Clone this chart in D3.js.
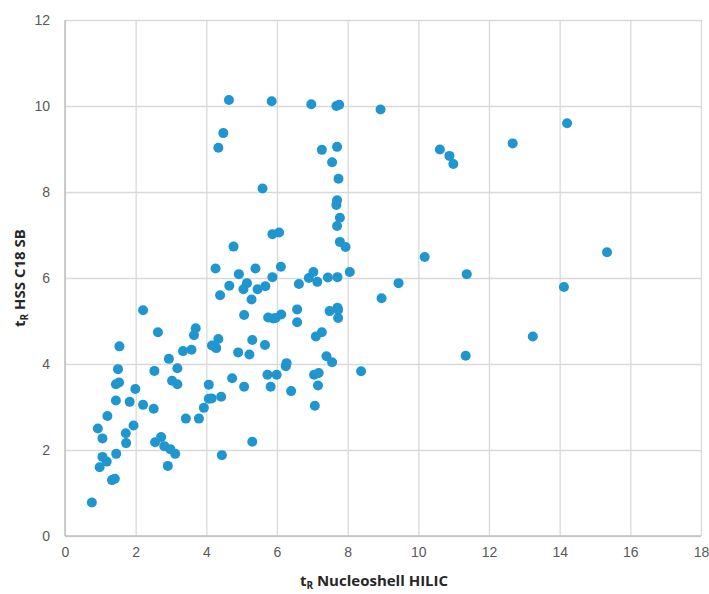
<!DOCTYPE html>
<html>
<head>
<meta charset="utf-8">
<script src="https://cdn.jsdelivr.net/npm/d3@7"></script>
<style>
  html, body { margin: 0; padding: 0; background: #fff; }
  svg { display: block; }
</style>
</head>
<body>
<svg id="chart" width="709" height="594"></svg>
<script>
const xTicks = [0, 2, 4, 6, 8, 10, 12, 14, 16, 18];
const yTicks = [0, 2, 4, 6, 8, 10, 12];
const xLabelMain = "t", xLabelSub = "R", xLabelRest = " Nucleoshell HILIC";
const yLabelMain = "t", yLabelSub = "R", yLabelRest = " HSS C18 SB";

const xValues = [
  4.64, 5.85, 4.48, 4.34, 5.59, 6.97, 7.68, 7.76, 8.93, 7.27,
  7.70, 7.56, 7.74, 7.70, 7.68, 10.61, 10.88, 10.99, 12.67, 14.21,
  5.87, 6.06, 4.77, 4.26, 4.92, 5.39, 6.11, 5.87, 4.65, 5.15,
  5.05, 5.45, 5.67, 6.62, 4.39, 5.28, 2.21, 5.07, 5.75, 5.89,
  5.96, 6.12, 6.57, 6.57, 2.63, 3.70, 3.65, 4.34, 5.30, 4.16,
  4.28, 5.66, 1.54, 3.34, 3.58, 4.90, 5.22, 2.94, 6.27, 6.25,
  1.50, 2.53, 3.18, 4.73, 5.73, 5.99, 3.03, 1.44, 1.53, 1.99,
  3.18, 4.07, 5.07, 5.82, 6.40, 1.44, 1.83, 2.21, 2.51, 4.07,
  4.15, 4.42, 3.93, 1.20, 3.42, 3.79, 0.93, 1.06, 1.94, 1.72,
  1.73, 2.55, 2.72, 2.81, 2.98, 3.12, 1.45, 1.06, 1.18, 0.98,
  5.30, 4.44, 2.91, 1.33, 1.41, 0.76, 7.78, 7.70, 7.78, 7.94,
  10.18, 11.37, 7.03, 6.90, 7.14, 7.44, 7.71, 8.06, 9.44, 8.96,
  7.49, 7.71, 7.73, 7.73, 7.27, 7.10, 7.40, 7.56, 8.38, 7.05,
  7.18, 11.34, 7.16, 7.07, 15.34, 14.12, 13.24
];
const yValues = [
  10.14, 10.11, 9.37, 9.03, 8.08, 10.04, 10.00, 10.03, 9.92, 8.98,
  9.05, 8.69, 8.31, 7.81, 7.70, 8.99, 8.84, 8.65, 9.13, 9.60,
  7.02, 7.06, 6.73, 6.22, 6.09, 6.22, 6.26, 6.02, 5.82, 5.88,
  5.74, 5.74, 5.81, 5.86, 5.60, 5.50, 5.25, 5.14, 5.08, 5.06,
  5.07, 5.15, 5.27, 4.97, 4.74, 4.83, 4.67, 4.58, 4.56, 4.43,
  4.37, 4.44, 4.41, 4.30, 4.33, 4.27, 4.22, 4.12, 4.02, 3.95,
  3.88, 3.84, 3.90, 3.67, 3.75, 3.75, 3.61, 3.53, 3.57, 3.42,
  3.53, 3.52, 3.47, 3.47, 3.37, 3.15, 3.12, 3.05, 2.96, 3.19,
  3.20, 3.24, 2.98, 2.79, 2.73, 2.73, 2.50, 2.27, 2.57, 2.39,
  2.16, 2.18, 2.30, 2.09, 2.02, 1.91, 1.91, 1.84, 1.73, 1.60,
  2.19, 1.88, 1.63, 1.30, 1.33, 0.78, 7.40, 7.21, 6.84, 6.72,
  6.49, 6.09, 6.14, 6.00, 5.91, 6.01, 6.02, 6.14, 5.88, 5.53,
  5.23, 5.31, 5.26, 5.07, 4.74, 4.64, 4.18, 4.04, 3.83, 3.75,
  3.79, 4.19, 3.50, 3.03, 6.60, 5.79, 4.64
];

const svg = d3.select("#chart");
const mLeft = 65, mRight = 701, mTop = 20, mBottom = 536;

const x = d3.scaleLinear().domain([0, 18]).range([mLeft, mRight]);
const y = d3.scaleLinear().domain([0, 12]).range([mBottom, mTop]);

const tickFont = "'Liberation Sans', Arial, sans-serif";
const titleFont = "'Open Sans', 'Liberation Sans', sans-serif";

// Vertical gridlines
svg.append("g")
  .attr("transform", `translate(0,${mBottom})`)
  .call(d3.axisBottom(x).tickValues(xTicks).tickSize(-(mBottom - mTop)).tickFormat(""))
  .call(g => g.select(".domain").remove())
  .call(g => g.selectAll("line").attr("stroke", "#d9d9d9").attr("stroke-width", 1.3));

// Horizontal gridlines
svg.append("g")
  .attr("transform", `translate(${mLeft},0)`)
  .call(d3.axisLeft(y).tickValues(yTicks).tickSize(-(mRight - mLeft)).tickFormat(""))
  .call(g => g.select(".domain").remove())
  .call(g => g.selectAll("line").attr("stroke", "#d9d9d9").attr("stroke-width", 1.3));

// Axis lines
svg.append("line").attr("x1", mLeft).attr("x2", mLeft).attr("y1", mTop).attr("y2", mBottom)
  .attr("stroke", "#bfbfbf").attr("stroke-width", 1.5);
svg.append("line").attr("x1", mLeft).attr("x2", mRight).attr("y1", mBottom).attr("y2", mBottom)
  .attr("stroke", "#bfbfbf").attr("stroke-width", 1.5);

// X tick labels
svg.append("g")
  .attr("transform", `translate(0,${mBottom})`)
  .call(d3.axisBottom(x).tickValues(xTicks).tickSize(0).tickPadding(11).tickFormat(d3.format("d")))
  .call(g => g.select(".domain").remove())
  .call(g => g.selectAll("text").attr("fill", "#595959").style("font-family", tickFont).style("font-size", "14px"));

// Y tick labels
svg.append("g")
  .attr("transform", `translate(${mLeft},0)`)
  .call(d3.axisLeft(y).tickValues(yTicks).tickSize(0).tickPadding(15).tickFormat(d3.format("d")))
  .call(g => g.select(".domain").remove())
  .call(g => g.selectAll("text").attr("fill", "#595959").style("font-family", tickFont).style("font-size", "14px"));

// Points
svg.append("g")
  .selectAll("circle")
  .data(xValues.map((v, i) => [v, yValues[i]]))
  .join("circle")
  .attr("cx", d => x(d[0]))
  .attr("cy", d => y(d[1]))
  .attr("r", 5)
  .attr("fill", "#1f96cf");

// X axis title
const xt = svg.append("text")
  .attr("x", 374).attr("y", 586)
  .attr("text-anchor", "middle")
  .attr("fill", "#262626")
  .style("font-family", titleFont).style("font-size", "15px").style("font-weight", "bold");
xt.append("tspan").text(xLabelMain);
xt.append("tspan").attr("dy", 3).style("font-size", "10px").text(xLabelSub);
xt.append("tspan").attr("dy", -3).text(xLabelRest);

// Y axis title
const yt = svg.append("text")
  .attr("transform", `translate(25,${(mTop + mBottom) / 2}) rotate(-90)`)
  .attr("text-anchor", "middle")
  .attr("fill", "#262626")
  .style("font-family", titleFont).style("font-size", "15px").style("font-weight", "bold");
yt.append("tspan").text(yLabelMain);
yt.append("tspan").attr("dy", 3).style("font-size", "10px").text(yLabelSub);
yt.append("tspan").attr("dy", -3).text(yLabelRest);
</script>
</body>
</html>
